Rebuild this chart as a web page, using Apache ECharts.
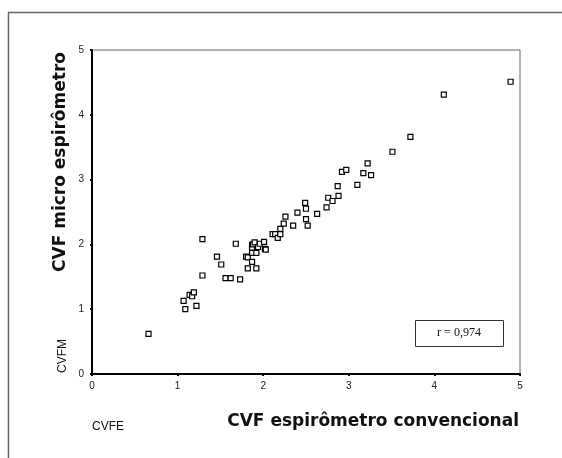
<!DOCTYPE html>
<html lang="pt">
<head>
    <meta charset="UTF-8">
    <title>CVF</title>
    <script src="https://cdn.jsdelivr.net/npm/echarts/dist/echarts.min.js"></script>
    <style>
        body { margin: 0; background: #fff; }
    </style>
</head>
<body>
<div id="main" style="width: 562px;height:458px;"></div>
<script type="text/javascript">
    // CVF espirômetro convencional (x) vs micro espirômetro (y)
    var cvfe = [0.66, 1.07, 1.09, 1.14, 1.17, 1.19, 1.22, 1.29, 1.29, 1.46,
                1.51, 1.56, 1.62, 1.68, 1.73, 1.80, 1.82, 1.82, 1.87, 1.87,
                1.87, 1.87, 1.88, 1.90, 1.92, 1.92, 1.94, 1.96, 2.01, 2.02,
                2.03, 2.11, 2.14, 2.17, 2.20, 2.20, 2.24, 2.26, 2.35, 2.40,
                2.49, 2.50, 2.50, 2.52, 2.63, 2.74, 2.76, 2.81, 2.87, 2.88,
                2.92, 2.97, 3.10, 3.17, 3.22, 3.26, 3.51, 3.72, 4.11, 4.89];
    var cvfm = [0.62, 1.13, 1.00, 1.22, 1.20, 1.26, 1.05, 2.08, 1.52, 1.81,
                1.69, 1.48, 1.48, 2.01, 1.46, 1.81, 1.80, 1.63, 1.73, 1.87,
                1.99, 1.95, 2.00, 2.03, 1.87, 1.63, 1.96, 2.01, 2.04, 1.93,
                1.92, 2.16, 2.16, 2.10, 2.24, 2.16, 2.32, 2.43, 2.29, 2.49,
                2.64, 2.55, 2.39, 2.29, 2.47, 2.57, 2.72, 2.67, 2.90, 2.75,
                3.12, 3.15, 2.92, 3.10, 3.25, 3.07, 3.43, 3.66, 4.31, 4.51];
    var rLabel = 'r = 0,974';

    var points = cvfe.map(function (v, i) { return [v, cvfm[i]]; });

    var chart = echarts.init(document.getElementById('main'));

    var axisCommon = {
        type: 'value',
        min: 0,
        max: 5,
        interval: 1,
        splitLine: { show: false },
        axisLine: { show: true, lineStyle: { color: '#000', width: 2 } },
        axisTick: { show: true, length: 2, lineStyle: { color: '#000', width: 2 } },
        axisLabel: { color: '#222', fontSize: 10, fontFamily: 'Liberation Sans' }
    };

    chart.setOption({
        animation: false,
        grid: {
            left: 92, right: 42, top: 50, bottom: 84,
            show: true, borderColor: '#666', borderWidth: 1
        },
        xAxis: Object.assign({}, axisCommon, {
            axisLabel: Object.assign({}, axisCommon.axisLabel, { margin: 7 })
        }),
        yAxis: Object.assign({}, axisCommon, {
            axisLabel: Object.assign({}, axisCommon.axisLabel, { margin: 8 })
        }),
        series: [{
            type: 'scatter',
            data: points,
            symbol: 'rect',
            symbolSize: 5,
            itemStyle: { color: '#fff', borderColor: '#000', borderWidth: 1.2, opacity: 1 }
        }],
        graphic: [
            {
                type: 'rect', silent: true, z: -1,
                shape: { x: 8.5, y: 12.5, width: 600, height: 500 },
                style: { fill: 'none', stroke: '#666', lineWidth: 1.5 }
            },
            {
                type: 'rect',
                shape: { x: 415.5, y: 320.5, width: 88, height: 26 },
                style: { fill: '#fff', stroke: '#333', lineWidth: 1 }
            },
            {
                type: 'text', x: 459, y: 333,
                style: {
                    text: rLabel, fill: '#111', font: '12px "Liberation Serif"',
                    textAlign: 'center', textVerticalAlign: 'middle'
                }
            },
            {
                type: 'text', x: 519, y: 422,
                style: {
                    text: 'CVF espirômetro convencional', fill: '#111',
                    font: 'bold 17px "DejaVu Sans"',
                    textAlign: 'right', textVerticalAlign: 'middle'
                }
            },
            {
                type: 'text', x: 92, y: 427,
                style: {
                    text: 'CVFE', fill: '#111', font: '12px "Liberation Sans"',
                    textAlign: 'left', textVerticalAlign: 'middle'
                }
            },
            {
                type: 'text', x: 61, y: 162, rotation: Math.PI / 2,
                style: {
                    text: 'CVF micro espirômetro', fill: '#111',
                    font: 'bold 17px "DejaVu Sans"',
                    textAlign: 'center', textVerticalAlign: 'middle'
                }
            },
            {
                type: 'text', x: 63, y: 356, rotation: Math.PI / 2,
                style: {
                    text: 'CVFM', fill: '#111', font: '12px "Liberation Sans"',
                    textAlign: 'center', textVerticalAlign: 'middle'
                }
            }
        ]
    });
</script>
</body>
</html>
